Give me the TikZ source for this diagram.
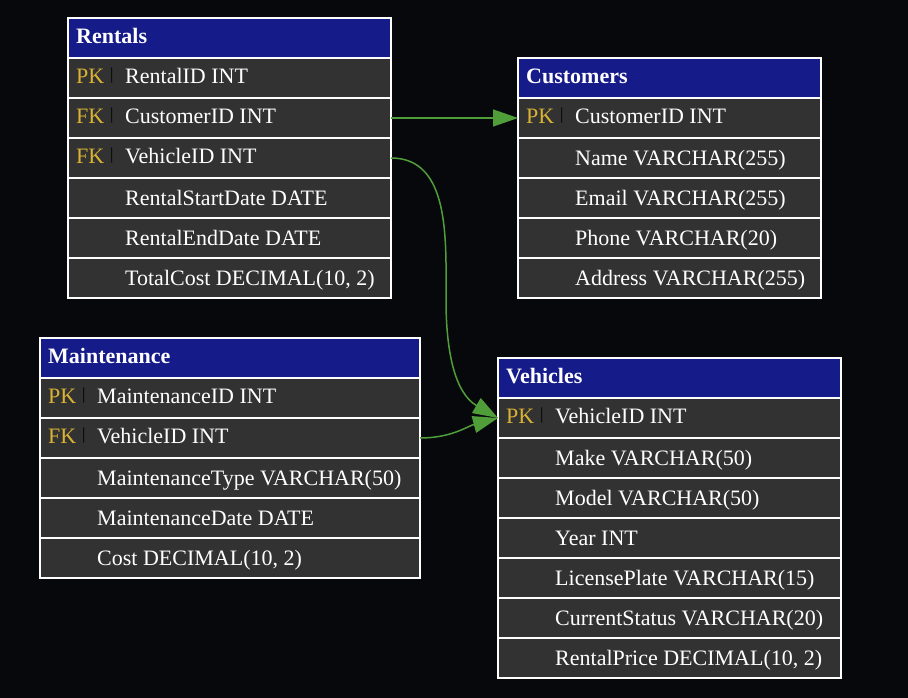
\documentclass[tikz,border=0pt]{standalone}
\usepackage{fontspec}
\setmainfont{Liberation Serif}
\usetikzlibrary{positioning, arrows.meta}

\definecolor{bgdark}{RGB}{6,8,12}
\definecolor{hdrblue}{RGB}{22,27,138}
\definecolor{cellgray}{RGB}{50,50,50}
\definecolor{keygold}{RGB}{218,178,52}
\definecolor{linkgreen}{RGB}{80,158,58}

\begin{document}
\begin{tikzpicture}[x=1pt, y=-1pt,
  hdr/.style={draw=white, line width=1.5pt, fill=hdrblue, minimum height=40pt, outer sep=0pt, inner sep=0pt},
  fld/.style={draw=white, line width=1.5pt, fill=cellgray, minimum height=40pt, outer sep=0pt, inner sep=0pt},
  title/.style={anchor=base west, inner sep=0pt, text=white, font=\bfseries\fontsize{22}{26}\selectfont},
  colname/.style={anchor=base west, inner sep=0pt, text=white, font=\fontsize{22}{26}\selectfont},
  keytag/.style={anchor=base west, inner sep=0pt, text=keygold, font=\fontsize{22}{26}\selectfont},
  keybar/.style={anchor=base west, inner sep=0pt, text=black, font=\fontsize{17}{20}\selectfont},
  fkline/.style={draw=linkgreen, line width=1.5pt, -{Triangle[length=25pt,width=17pt]}}]

\fill[bgdark] (0,0) rectangle (908,698);
\useasboundingbox (0,0) rectangle (908,698);

% Rentals
\node[hdr, minimum width=323pt, anchor=north west] (rentals) at (68,18) {};
\node[fld, minimum width=323pt, below=0pt of rentals] (rentals-id) {};
\node[fld, minimum width=323pt, below=0pt of rentals-id] (rentals-cust) {};
\node[fld, minimum width=323pt, below=0pt of rentals-cust] (rentals-veh) {};
\node[fld, minimum width=323pt, below=0pt of rentals-veh] (rentals-start) {};
\node[fld, minimum width=323pt, below=0pt of rentals-start] (rentals-end) {};
\node[fld, minimum width=323pt, below=0pt of rentals-end] (rentals-cost) {};

\node[title] at ([xshift=8pt,yshift=-5.5pt]rentals.west) {Rentals};
\node[keytag] at ([xshift=8pt,yshift=-5.5pt]rentals-id.west) {PK};
\node[keybar] at ([xshift=42pt,yshift=-1.5pt]rentals-id.west) {|};
\node[colname] at ([xshift=57pt,yshift=-5.5pt]rentals-id.west) {RentalID INT};
\node[keytag] at ([xshift=8pt,yshift=-5.5pt]rentals-cust.west) {FK};
\node[keybar] at ([xshift=42pt,yshift=-1.5pt]rentals-cust.west) {|};
\node[colname] at ([xshift=57pt,yshift=-5.5pt]rentals-cust.west) {CustomerID INT};
\node[keytag] at ([xshift=8pt,yshift=-5.5pt]rentals-veh.west) {FK};
\node[keybar] at ([xshift=42pt,yshift=-1.5pt]rentals-veh.west) {|};
\node[colname] at ([xshift=57pt,yshift=-5.5pt]rentals-veh.west) {VehicleID INT};
\node[colname] at ([xshift=57pt,yshift=-7.5pt]rentals-start.west) {RentalStartDate DATE};
\node[colname] at ([xshift=57pt,yshift=-7.5pt]rentals-end.west) {RentalEndDate DATE};
\node[colname] at ([xshift=57pt,yshift=-7.5pt]rentals-cost.west) {TotalCost DECIMAL(10, 2)};

% Customers
\node[hdr, minimum width=303pt, anchor=north west] (cust) at (518,58) {};
\node[fld, minimum width=303pt, below=0pt of cust] (cust-id) {};
\node[fld, minimum width=303pt, below=0pt of cust-id] (cust-name) {};
\node[fld, minimum width=303pt, below=0pt of cust-name] (cust-mail) {};
\node[fld, minimum width=303pt, below=0pt of cust-mail] (cust-phone) {};
\node[fld, minimum width=303pt, below=0pt of cust-phone] (cust-addr) {};

\node[title] at ([xshift=8pt,yshift=-5.5pt]cust.west) {Customers};
\node[keytag] at ([xshift=8pt,yshift=-5.5pt]cust-id.west) {PK};
\node[keybar] at ([xshift=42pt,yshift=-1.5pt]cust-id.west) {|};
\node[colname] at ([xshift=57pt,yshift=-5.5pt]cust-id.west) {CustomerID INT};
\node[colname] at ([xshift=57pt,yshift=-7.5pt]cust-name.west) {Name VARCHAR(255)};
\node[colname] at ([xshift=57pt,yshift=-7.5pt]cust-mail.west) {Email VARCHAR(255)};
\node[colname] at ([xshift=57pt,yshift=-7.5pt]cust-phone.west) {Phone VARCHAR(20)};
\node[colname] at ([xshift=57pt,yshift=-7.5pt]cust-addr.west) {Address VARCHAR(255)};

% Maintenance
\node[hdr, minimum width=380pt, anchor=north west] (maint) at (40,338) {};
\node[fld, minimum width=380pt, below=0pt of maint] (maint-id) {};
\node[fld, minimum width=380pt, below=0pt of maint-id] (maint-veh) {};
\node[fld, minimum width=380pt, below=0pt of maint-veh] (maint-type) {};
\node[fld, minimum width=380pt, below=0pt of maint-type] (maint-date) {};
\node[fld, minimum width=380pt, below=0pt of maint-date] (maint-cost) {};

\node[title] at ([xshift=8pt,yshift=-5.5pt]maint.west) {Maintenance};
\node[keytag] at ([xshift=8pt,yshift=-5.5pt]maint-id.west) {PK};
\node[keybar] at ([xshift=42pt,yshift=-1.5pt]maint-id.west) {|};
\node[colname] at ([xshift=57pt,yshift=-5.5pt]maint-id.west) {MaintenanceID INT};
\node[keytag] at ([xshift=8pt,yshift=-5.5pt]maint-veh.west) {FK};
\node[keybar] at ([xshift=42pt,yshift=-1.5pt]maint-veh.west) {|};
\node[colname] at ([xshift=57pt,yshift=-5.5pt]maint-veh.west) {VehicleID INT};
\node[colname] at ([xshift=57pt,yshift=-7.5pt]maint-type.west) {MaintenanceType VARCHAR(50)};
\node[colname] at ([xshift=57pt,yshift=-7.5pt]maint-date.west) {MaintenanceDate DATE};
\node[colname] at ([xshift=57pt,yshift=-7.5pt]maint-cost.west) {Cost DECIMAL(10, 2)};

% Vehicles
\node[hdr, minimum width=343pt, anchor=north west] (veh) at (498,358) {};
\node[fld, minimum width=343pt, below=0pt of veh] (veh-id) {};
\node[fld, minimum width=343pt, below=0pt of veh-id] (veh-make) {};
\node[fld, minimum width=343pt, below=0pt of veh-make] (veh-model) {};
\node[fld, minimum width=343pt, below=0pt of veh-model] (veh-year) {};
\node[fld, minimum width=343pt, below=0pt of veh-year] (veh-plate) {};
\node[fld, minimum width=343pt, below=0pt of veh-plate] (veh-status) {};
\node[fld, minimum width=343pt, below=0pt of veh-status] (veh-price) {};

\node[title] at ([xshift=8pt,yshift=-5.5pt]veh.west) {Vehicles};
\node[keytag] at ([xshift=8pt,yshift=-5.5pt]veh-id.west) {PK};
\node[keybar] at ([xshift=42pt,yshift=-1.5pt]veh-id.west) {|};
\node[colname] at ([xshift=57pt,yshift=-5.5pt]veh-id.west) {VehicleID INT};
\node[colname] at ([xshift=57pt,yshift=-7.5pt]veh-make.west) {Make VARCHAR(50)};
\node[colname] at ([xshift=57pt,yshift=-7.5pt]veh-model.west) {Model VARCHAR(50)};
\node[colname] at ([xshift=57pt,yshift=-7.5pt]veh-year.west) {Year INT};
\node[colname] at ([xshift=57pt,yshift=-7.5pt]veh-plate.west) {LicensePlate VARCHAR(15)};
\node[colname] at ([xshift=57pt,yshift=-7.5pt]veh-status.west) {CurrentStatus VARCHAR(20)};
\node[colname] at ([xshift=57pt,yshift=-7.5pt]veh-price.west) {RentalPrice DECIMAL(10, 2)};

% links
\coordinate (vbend) at (446,300);
\draw[fkline] (rentals-cust.east) -- (cust-id.west);
\draw[fkline] (rentals-veh.east) to[out=0,in=90] (vbend) to[out=-90,in=150] (veh-id.west);
\draw[fkline] (maint-veh.east) to[out=0,in=195] (veh-id.west);

\end{tikzpicture}
\end{document}
